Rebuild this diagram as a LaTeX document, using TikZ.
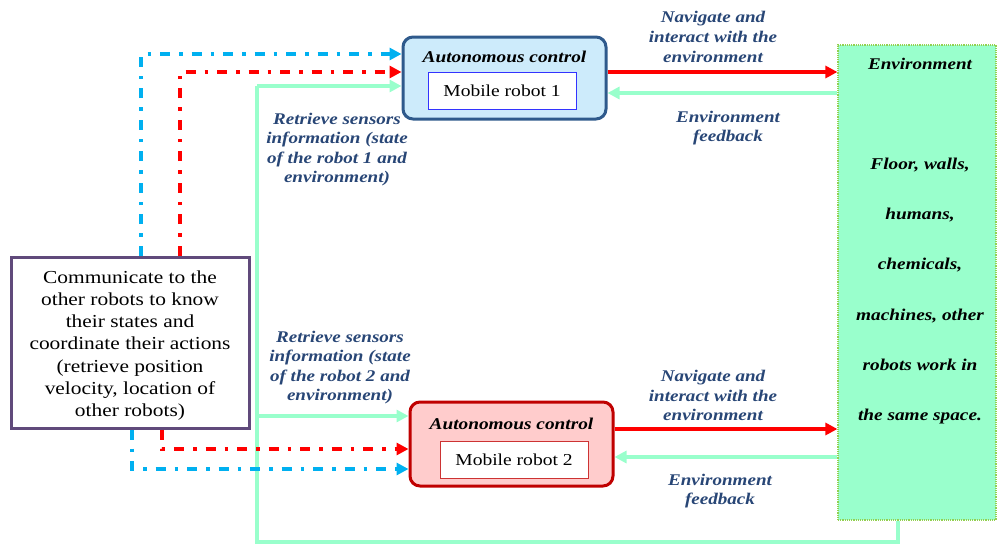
\documentclass[tikz,border=0pt]{standalone}
\usepackage{fontspec}
\setmainfont{Liberation Serif}[FakeStretch=1.17]
\usetikzlibrary{arrows.meta}
\definecolor{navyframe}{HTML}{2F5A8C}
\definecolor{skyfill}{HTML}{CDEBFB}
\definecolor{darkred}{HTML}{C00000}
\definecolor{pinkfill}{HTML}{FFCCCC}
\definecolor{mint}{HTML}{99FFCC}
\definecolor{dotgreen}{HTML}{92D050}
\definecolor{purpleframe}{HTML}{604A7B}
\definecolor{cyanlink}{HTML}{00B0F0}
\definecolor{labelblue}{HTML}{284676}
\definecolor{innerblue}{HTML}{3333FF}
\tikzset{
  ctrlbox/.style={rounded corners=10pt, line width=3pt, minimum width=203pt},
  innerbox/.style={fill=white, line width=0.9pt, minimum width=148pt, minimum height=37pt,
    font=\fontsize{16.7}{20}\selectfont},
  headtext/.style={font=\fontsize{16.5}{20}\selectfont\bfseries\itshape},
  lbl/.style={align=center, text=labelblue, font=\fontsize{16.3}{19.6}\selectfont\bfseries\itshape},
  tip/.style={-{Triangle[length=12pt,width=12pt]}},
  actline/.style={tip, line width=3.2pt, red},
  fbline/.style={tip, line width=3.2pt, mint},
  dashdot/.style={tip, line width=3.5pt, dash pattern=on 10pt off 9pt on 3.5pt off 9pt},
}
\begin{document}
\begin{tikzpicture}[x=1pt, y=-1pt]
\useasboundingbox (0,0) rectangle (998,544);

% controller boxes
\node[ctrlbox, draw=navyframe, fill=skyfill, minimum height=82pt] (r1) at (504.5,78) {};
\node[headtext] (h1) at (504.5,57) {Autonomous control};
\node[innerbox, draw=innerblue] (m1) at (502,90.5) {Mobile robot 1};

\node[ctrlbox, draw=darkred, fill=pinkfill, minimum height=84pt] (r2) at (511.5,444) {};
\node[headtext] (h2) at (511.5,424) {Autonomous control};
\node[innerbox, draw=darkred!80] (m2) at (514,460) {Mobile robot 2};

% environment
\node[draw=dotgreen, fill=mint, densely dotted, line width=1.2pt,
      minimum width=158pt, minimum height=475pt] (env) at (917,282.5) {};
\node[font=\fontsize{16.3}{19}\selectfont\bfseries\itshape] (envt) at (920,64) {Environment};
\node[align=center, font=\fontsize{16.5}{50.2}\selectfont\bfseries\itshape] (envb) at (920,291)
  {Floor, walls,\\humans,\\chemicals,\\machines, other\\robots work in\\the same space.};

% communication box
\node[draw=purpleframe, line width=3pt, fill=white, minimum width=238pt, minimum height=171pt]
  (comm) at (130,342.5) {};
\node[align=center, font=\fontsize{18.3}{22.2}\selectfont] (commt) at (130,345.5)
  {Communicate to the\\other robots to know\\their states and\\coordinate their actions\\(retrieve position\\velocity, location of\\other robots)};

% robot <-> environment links
\draw[actline] (r1.east |- 0,72) -- (env.west |- 0,72);
\draw[fbline] (env.west |- 0,93) -- (r1.east |- 0,93);
\draw[actline] (r2.east |- 0,429) -- (env.west |- 0,429);
\draw[fbline] (env.west |- 0,457) -- (r2.east |- 0,457);

% sensor feedback loop
\coordinate (loopR) at (env.south -| 898,0);
\coordinate (loopBR) at (898,542);
\coordinate (loopBL) at (257,542);
\coordinate (loopTL) at (257,86);
\coordinate (loopM) at (257,416);
\draw[line width=3.2pt, mint, line join=miter] (loopR) -- (loopBR) -- (loopBL) -- (loopTL);
\draw[fbline] (loopTL) -- (r1.west |- loopTL);
\draw[fbline] (loopM) -- (r2.west |- loopM);

% inter-robot communication
\draw[dashdot, cyanlink] (comm.north -| 141,0) |- (r1.west |- 0,54);
\draw[dashdot, red] (comm.north -| 180,0) |- (r1.west |- 0,72);
\draw[dashdot, red] (comm.south -| 162,0) |- (r2.west |- 0,449);
\draw[dashdot, cyanlink] (comm.south -| 132,0) |- (r2.west |- 0,469);

% labels
\node[lbl] (l1) at (713,37) {Navigate and\\interact with the\\environment};
\node[lbl] (l2) at (728,128) {Environment\\feedback};
\node[lbl] (l3) at (337,149.5) {Retrieve sensors\\information (state\\of the robot 1 and\\environment)};
\node[lbl] (l4) at (713,395.5) {Navigate and\\interact with the\\environment};
\node[lbl] (l5) at (720,491) {Environment\\feedback};
\node[lbl] (l6) at (340,367.5) {Retrieve sensors\\information (state\\of the robot 2 and\\environment)};
\end{tikzpicture}
\end{document}
